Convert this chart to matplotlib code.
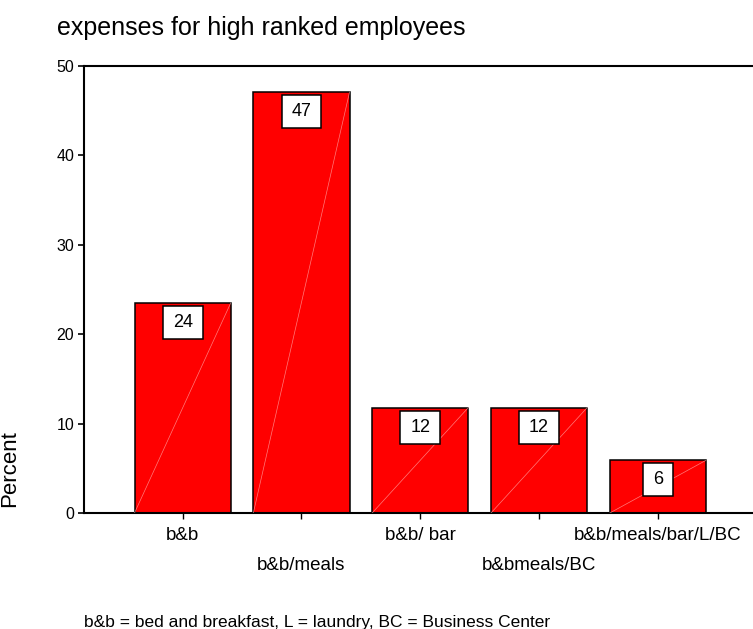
import matplotlib
matplotlib.use("Agg")
import matplotlib.pyplot as plt

plt.rcParams['font.family'] = ['Liberation Sans', 'DejaVu Sans']

# Share of employees per expense package (n = 17)
categories = ["b&b", "b&b/meals", "b&b/ bar", "b&bmeals/BC", "b&b/meals/bar/L/BC"]
percent = [23.5, 47.1, 11.8, 11.8, 5.9]
y_ticks = [0, 10, 20, 30, 40, 50]

fig = plt.figure(figsize=(7.53, 6.29), dpi=100)
ax = fig.add_axes([84 / 753, 1 - 513 / 629, 1 - 84 / 753, (513 - 66) / 629])

x = list(range(len(categories)))
bars = ax.bar(x, percent, width=0.81, color="#ff0000", edgecolor="black", linewidth=1.1, zorder=2)

# faint diagonal sheen across each bar
for rect in bars:
    x0, w, h = rect.get_x(), rect.get_width(), rect.get_height()
    ax.plot([x0, x0 + w], [0, h], color="#ffb0b0", lw=0.5, alpha=0.7, zorder=3)

# value labels in boxes just under the bar tops
for xi, v in zip(x, percent):
    ax.annotate(f"{v:.0f}", xy=(xi, v), xytext=(0, -8), textcoords="offset points",
                ha="center", va="top", fontsize=13, zorder=4,
                bbox=dict(boxstyle="square,pad=0.55", mutation_aspect=0.8,
                          fc="white", ec="black", lw=1.1))

ax.set_xlim(-0.83, 4.8)
ax.set_ylim(0, 50)
ax.set_yticks(y_ticks)
ax.set_xticks(x)
ax.set_xticklabels(categories, fontsize=13.5)
for i, t in enumerate(ax.xaxis.get_major_ticks()):
    t.set_pad(6 if i % 2 == 0 else 27.5)
ax.tick_params(axis="y", labelsize=11.5, length=4, width=1.2, direction="out", pad=3)
ax.tick_params(axis="x", length=4, width=1.0, direction="out")

for side in ("left", "bottom", "top"):
    ax.spines[side].set_linewidth(1.5)
ax.spines["right"].set_visible(False)

ax.set_ylabel("Percent", fontsize=16)
ax.yaxis.set_label_coords((20 - 84) / (753 - 84), (513 - 469) / (513 - 66))

fig.text(57 / 753, 1 - 28 / 629, "expenses for high ranked employees", fontsize=18,
         ha="left", va="center")
fig.text(84 / 753, 1 - 622 / 629, "b&b = bed and breakfast, L = laundry, BC = Business Center",
         fontsize=12.5, ha="left", va="center")

fig.savefig("out.png", dpi=100)
